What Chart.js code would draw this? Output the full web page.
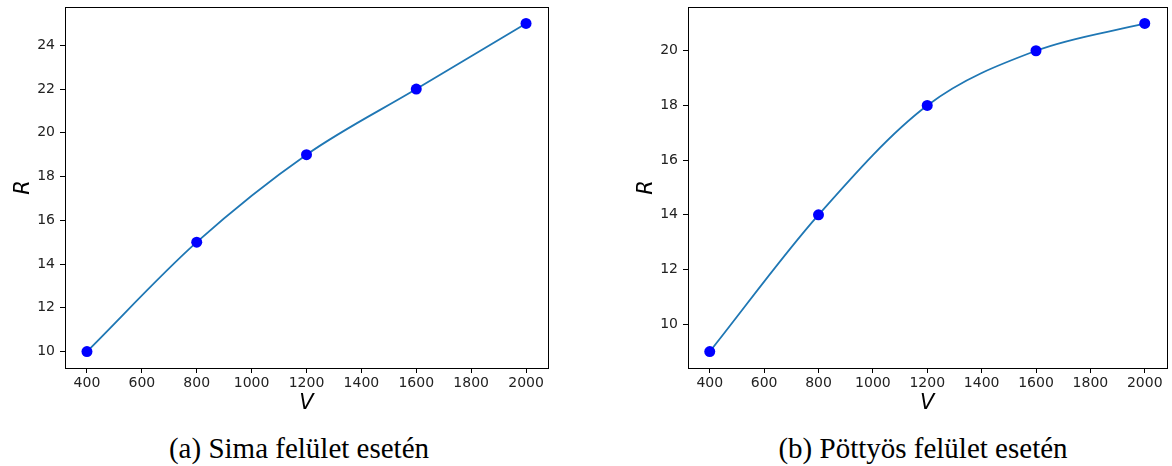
<!DOCTYPE html>
<html>
<head>
<meta charset="utf-8">
<script src="https://cdn.jsdelivr.net/npm/chart.js@4/dist/chart.umd.min.js"></script>
<style>
  body { margin: 0; background: #fff; width: 1172px; height: 466px; position: relative; overflow: hidden; }
  .box { position: absolute; top: 0; height: 420px; }
  .caption { position: absolute; top: 432px; font-family: "Liberation Serif", serif; font-size: 29px; line-height: 33px; color: #000; text-align: center; white-space: nowrap; }
</style>
</head>
<body>
<div class="box" style="left:0;width:586px"><canvas id="chartA"></canvas></div>
<div class="box" style="left:620px;width:552px"><canvas id="chartB"></canvas></div>
<div class="caption" style="left:99px;width:400px">(a) Sima felület esetén</div>
<div class="caption" style="left:723px;width:400px">(b) Pöttyös felület esetén</div>
<script>
// measured values
const speeds = [400, 800, 1200, 1600, 2000];
const radiusSmooth = [10, 15, 19, 22, 25];
const radiusDotted = [9, 14, 18, 20, 21];
const xTicks = [400, 600, 800, 1000, 1200, 1400, 1600, 1800, 2000];
const yTicksA = [10, 12, 14, 16, 18, 20, 22, 24];
const yTicksB = [10, 12, 14, 16, 18, 20];

const frame = {
  id: 'frame',
  afterDatasetsDraw(chart) {
    const a = chart.chartArea;
    const ctx = chart.ctx;
    ctx.save();
    ctx.strokeStyle = '#000';
    ctx.lineWidth = 1;
    ctx.strokeRect(Math.round(a.left) + 0.5, Math.round(a.top) + 0.5, Math.round(a.right - a.left), Math.round(a.bottom - a.top));
    ctx.restore();
  }
};

function noPad(s) {
  s.paddingTop = 0; s.paddingBottom = 0; s.paddingLeft = 0; s.paddingRight = 0;
}

function makeChart(el, ys, yTicks, yMin, yMax, yWidth, rightPad, rTitlePad) {
  const tickFont = { family: "'DejaVu Sans'", size: 14 };
  const titleFont = { family: "'DejaVu Sans'", size: 21, style: 'italic' };
  return new Chart(document.getElementById(el), {
    type: 'scatter',
    data: {
      datasets: [{
        data: speeds.map((v, i) => ({ x: v, y: ys[i] })),
        showLine: true,
        cubicInterpolationMode: 'monotone',
        borderColor: '#1f77b4',
        borderWidth: 1.8,
        pointRadius: 5.5,
        pointBackgroundColor: '#0000ff',
        pointBorderColor: '#0000ff',
        pointBorderWidth: 0
      }]
    },
    options: {
      responsive: true,
      maintainAspectRatio: false,
      animation: false,
      clip: false,
      layout: { padding: { top: 7, right: rightPad, left: 0, bottom: 0 } },
      plugins: { legend: { display: false }, tooltip: { enabled: false } },
      scales: {
        x: {
          type: 'linear',
          min: 320,
          max: 2080,
          afterBuildTicks: s => { s.ticks = xTicks.map(v => ({ value: v })); },
          afterFit: s => { s.height = 52; noPad(s); },
          grid: { drawOnChartArea: false, drawTicks: true, tickLength: 5, color: '#000' },
          border: { display: true, color: '#000' },
          ticks: { font: tickFont, color: '#222', padding: 2, maxRotation: 0, callback: v => String(v) },
          title: { display: true, text: 'V', font: titleFont, color: '#000', padding: { top: 0, bottom: 4 } }
        },
        y: {
          type: 'linear',
          min: yMin,
          max: yMax,
          afterBuildTicks: s => { s.ticks = yTicks.map(v => ({ value: v })); },
          afterFit: s => { s.width = yWidth; noPad(s); },
          grid: { drawOnChartArea: false, drawTicks: true, tickLength: 5, color: '#000' },
          border: { display: true, color: '#000' },
          ticks: { font: tickFont, color: '#222', padding: 5, callback: v => String(v) },
          title: { display: true, text: 'R', font: titleFont, color: '#000', padding: { top: rTitlePad, bottom: 0 } }
        }
      }
    },
    plugins: [frame]
  });
}

makeChart('chartA', radiusSmooth, yTicksA, 9.25, 25.75, 65, 38, 11);
makeChart('chartB', radiusDotted, yTicksB, 8.4, 21.6, 68, 0, 14);
</script>
</body>
</html>
